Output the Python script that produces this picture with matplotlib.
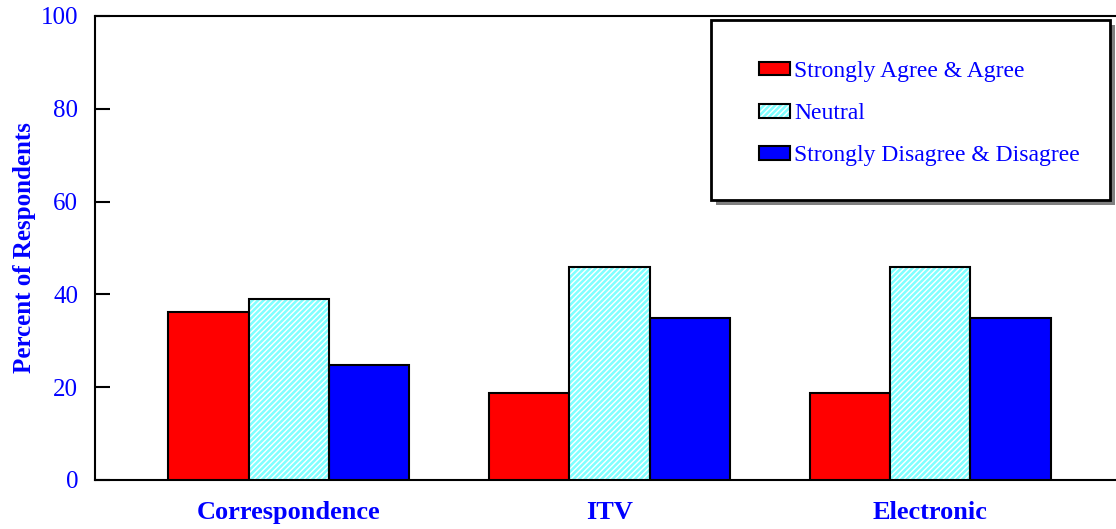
import matplotlib
matplotlib.use("Agg")
import matplotlib.pyplot as plt
from matplotlib.patches import Rectangle
import numpy as np

# survey data
categories = ["Correspondence", "ITV", "Electronic"]
agree = [36.2, 18.8, 18.8]
neutral = [39.0, 45.8, 45.8]
disagree = [24.8, 34.9, 34.9]
series_labels = ["Strongly Agree & Agree", "Neutral", "Strongly Disagree & Disagree"]

plt.rcParams['font.family'] = ['Liberation Serif', 'DejaVu Serif']

W, H = 1116, 529
fig = plt.figure(figsize=(W / 100, H / 100), dpi=100)
# right edge of the plot is cut off in the original picture
ax = fig.add_axes([95 / W, 49 / H, 1029 / W, 464 / H])

x = np.arange(len(categories))
w = 0.25

b1 = ax.bar(x - w, agree, w, color="#FF0000", edgecolor="black", linewidth=1.5, zorder=3)
# neutral bars: hatched fill first, then black outline on top
b2h = ax.bar(x, neutral, w, color="#80FFFF", edgecolor="white", hatch="//////", linewidth=0, zorder=3)
b2o = ax.bar(x, neutral, w, fill=False, edgecolor="black", linewidth=1.5, zorder=4)
b3 = ax.bar(x + w, disagree, w, color="#0000FF", edgecolor="black", linewidth=1.5, zorder=3)

ax.set_xlim(-0.604, 2.604)
ax.set_ylim(0, 100)
ax.set_yticks([0, 20, 40, 60, 80, 100])
ax.set_xticks(x)
ax.set_xticklabels(categories, fontsize=19, fontweight="bold", color="blue")
ax.tick_params(axis="x", length=0, pad=15)
ax.tick_params(axis="y", direction="in", length=11, width=1.5, labelsize=18,
               labelcolor="blue", pad=12)
ax.set_ylabel("Percent of Respondents", fontsize=18, fontweight="bold", color="blue")
ax.yaxis.set_label_coords(-0.057, 0.5)

for s in ax.spines.values():
    s.set_linewidth(1.5)
    s.set_color("black")

# legend box with drop shadow
fig.patches.append(Rectangle((716 / W, 1 - 205 / H), 399 / W, 180 / H, transform=fig.transFigure,
                             facecolor="#808080", edgecolor="none", zorder=5))
fig.patches.append(Rectangle((711 / W, 1 - 200 / H), 399 / W, 180 / H, transform=fig.transFigure,
                             facecolor="white", edgecolor="black", linewidth=2, zorder=6))

leg = ax.legend([b1[0], (b2h[0], b2o[0]), b3[0]], series_labels,
                loc="upper left", bbox_to_anchor=(759 / W, 1 - 61 / H),
                bbox_transform=fig.transFigure, fontsize=17, frameon=False,
                borderpad=0, labelspacing=0.9, handlelength=1.3, handleheight=0.5,
                handletextpad=0.2, borderaxespad=0)
leg.set_zorder(10)
leg.remove()
fig.add_artist(leg)
for t in leg.get_texts():
    t.set_color("blue")

plt.savefig("out.png", dpi=100)
